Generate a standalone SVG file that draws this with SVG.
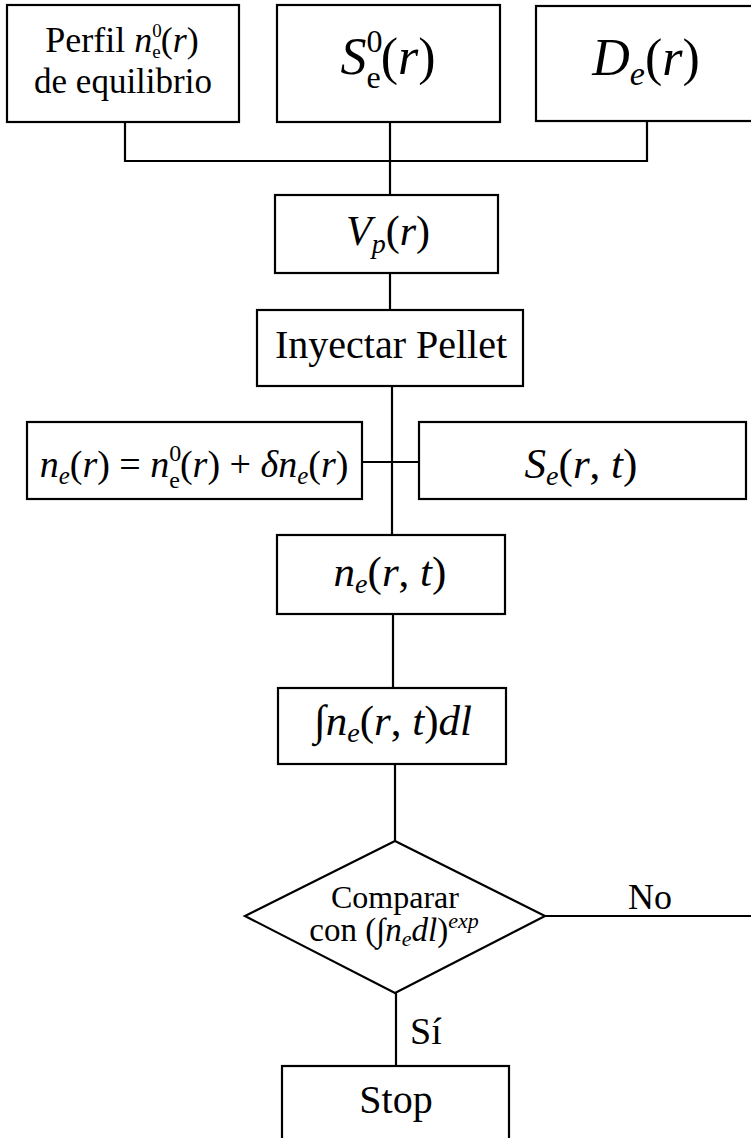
<svg xmlns="http://www.w3.org/2000/svg" width="751" height="1138" viewBox="0 0 751 1138">
<style>
.box{fill:#fff;stroke:#000;stroke-width:2.2}
.ln{fill:none;stroke:#000;stroke-width:2.2}
text{font-family:"Liberation Serif","Times New Roman",serif;fill:#000}
.i{font-style:italic}
</style>
<rect width="751" height="1138" fill="#fff"/>
<g id="connectors">
<path class="ln" d="M125,122 V161 H647 V120"/>
<path class="ln" d="M390,122 V195"/>
<path class="ln" d="M390,273 V310"/>
<path class="ln" d="M392,386 V535"/>
<path class="ln" d="M362,462 H419"/>
<path class="ln" d="M393,614 V688"/>
<path class="ln" d="M395,764 V841"/>
<path class="ln" d="M396,993 V1066"/>
<path class="ln" d="M545,916 H751"/>
</g>
<g id="perfil">
<rect class="box" x="7" y="5" width="232" height="117"/>
<text x="122" y="52" text-anchor="middle" font-size="36">Perfil <tspan class="i">n</tspan><tspan font-size="19" dy="-15">0</tspan><tspan font-size="19" dx="-9.5" dy="21">e</tspan><tspan dy="-6">(</tspan><tspan class="i">r</tspan>)</text>
<text x="123" y="93" text-anchor="middle" font-size="35">de equilibrio</text>
</g>
<g id="se0">
<rect class="box" x="277" y="5" width="223" height="117"/>
<text x="388" y="74" text-anchor="middle" font-size="52"><tspan class="i">S</tspan><tspan font-size="32" dy="-22">0</tspan><tspan font-size="32" dx="-16" dy="36">e</tspan><tspan dy="-14">(</tspan><tspan class="i">r</tspan>)</text>
</g>
<g id="de">
<rect class="box" x="536" y="6" width="240" height="115"/>
<text x="646" y="75" text-anchor="middle" font-size="52"><tspan class="i">D</tspan><tspan class="i" font-size="34" dy="10">e</tspan><tspan dy="-10">(</tspan><tspan class="i">r</tspan>)</text>
</g>
<g id="vp">
<rect class="box" x="275" y="195" width="223" height="78"/>
<text x="388" y="245" text-anchor="middle" font-size="42"><tspan class="i">V</tspan><tspan class="i" font-size="28" dy="8">p</tspan><tspan dy="-8">(</tspan><tspan class="i">r</tspan>)</text>
</g>
<g id="inyectar">
<rect class="box" x="257" y="310" width="266" height="76"/>
<text x="391" y="358" text-anchor="middle" font-size="40">Inyectar Pellet</text>
</g>
<g id="ne-sum">
<rect class="box" x="27" y="422" width="335" height="77"/>
<text x="194" y="477" text-anchor="middle" font-size="38"><tspan class="i">n</tspan><tspan class="i" font-size="25" dy="7">e</tspan><tspan dy="-7">(</tspan><tspan class="i">r</tspan>) = <tspan class="i">n</tspan><tspan font-size="24" dy="-16">0</tspan><tspan font-size="24" dx="-12" dy="27">e</tspan><tspan dy="-11">(</tspan><tspan class="i">r</tspan>) + <tspan class="i">δn</tspan><tspan class="i" font-size="25" dy="7">e</tspan><tspan dy="-7">(</tspan><tspan class="i">r</tspan>)</text>
</g>
<g id="se-rt">
<rect class="box" x="419" y="422" width="327" height="77"/>
<text x="581" y="478" text-anchor="middle" font-size="43"><tspan class="i">S</tspan><tspan class="i" font-size="28" dy="7">e</tspan><tspan dy="-7">(</tspan><tspan class="i">r</tspan>, <tspan class="i">t</tspan>)</text>
</g>
<g id="ne-rt">
<rect class="box" x="277" y="535" width="228" height="79"/>
<text x="390" y="586" text-anchor="middle" font-size="43"><tspan class="i">n</tspan><tspan class="i" font-size="28" dy="7">e</tspan><tspan dy="-7">(</tspan><tspan class="i">r</tspan>, <tspan class="i">t</tspan>)</text>
</g>
<g id="integral">
<rect class="box" x="278" y="688" width="228" height="76"/>
<text x="393" y="735" text-anchor="middle" font-size="43">∫<tspan class="i">n</tspan><tspan class="i" font-size="28" dy="7">e</tspan><tspan dy="-7">(</tspan><tspan class="i">r</tspan>, <tspan class="i">t</tspan>)<tspan class="i">dl</tspan></text>
</g>
<g id="comparar">
<polygon class="box" points="395,841 545,916 395,993 245,916"/>
<text x="395" y="908" text-anchor="middle" font-size="32">Comparar</text>
<text x="394" y="941" text-anchor="middle" font-size="33">con  (∫<tspan class="i">n</tspan><tspan class="i" font-size="22" dy="5">e</tspan><tspan class="i" dy="-5">dl</tspan>)<tspan class="i" font-size="22" dy="-13">exp</tspan></text>
</g>
<g id="labels">
<text x="628" y="909" font-size="36">No</text>
<text x="410" y="1044" font-size="38">Sí</text>
</g>
<g id="stop">
<rect class="box" x="282" y="1066" width="227" height="100"/>
<text x="396" y="1113" text-anchor="middle" font-size="40">Stop</text>
</g>
</svg>
